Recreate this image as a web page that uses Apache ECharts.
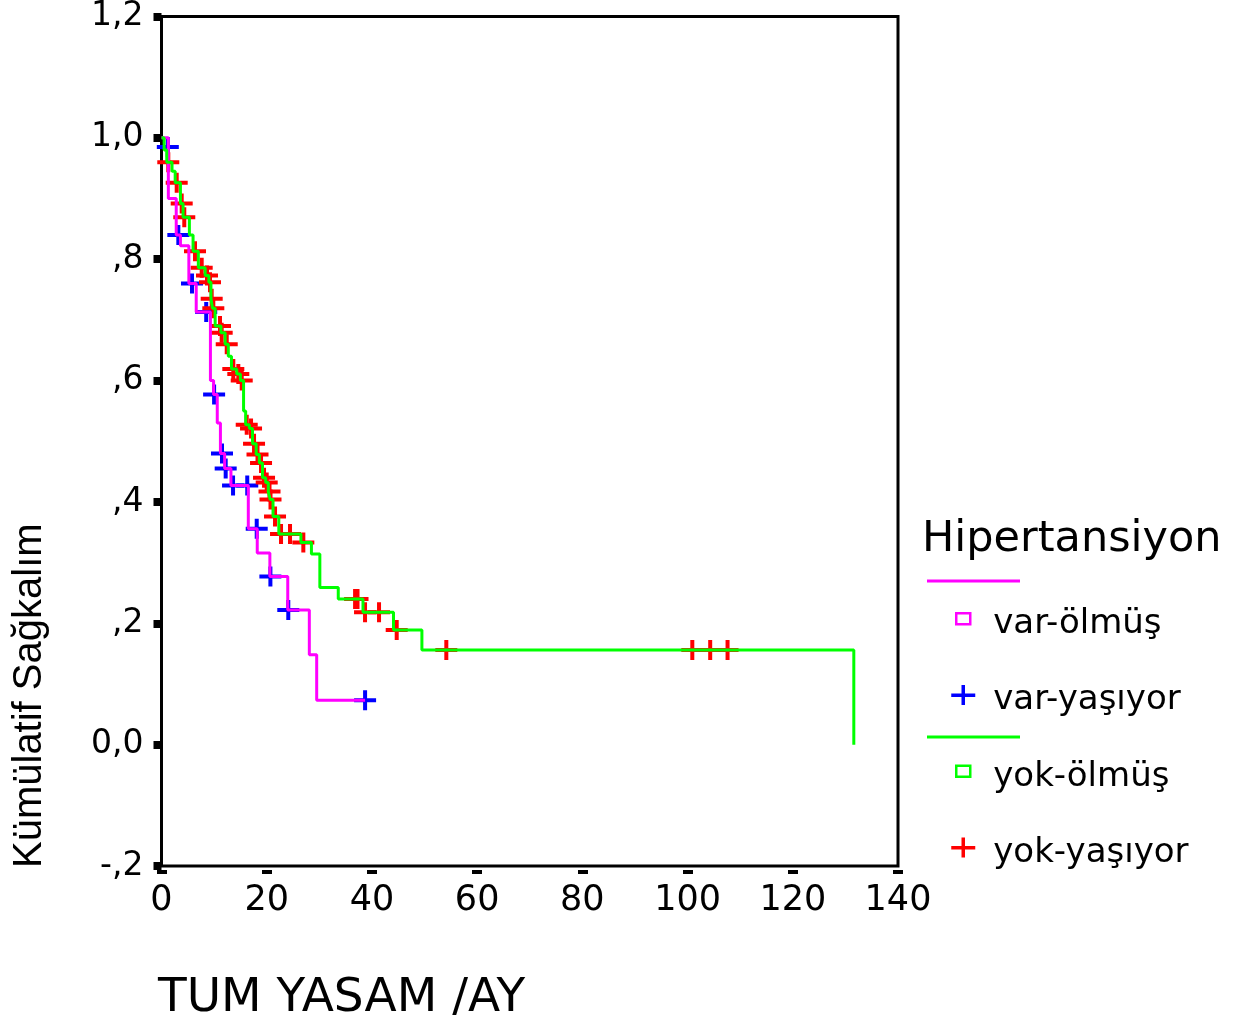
<!DOCTYPE html>
<html>
<head>
<meta charset="utf-8">
<script src="https://cdn.jsdelivr.net/npm/echarts@6/dist/echarts.min.js"></script>
<style>
  html, body { margin: 0; padding: 0; background: #fff; }
  #chart { width: 1245px; height: 1018px; }
</style>
</head>
<body>
<div id="chart"></div>
<script>
// ---- Data (time in months, cumulative survival) ----
// Group "var" (hypertension present): step curve (time at which survival changes, survival after)
const varTimes = [0, 1.3, 2.8, 3.6, 5.2, 6.6, 9.3, 9.9, 10.6, 11.2, 12.0, 13.2, 16.5, 18.2, 20.6, 24.0, 28.1, 29.5, 38.7];
const varSurv  = [1.0, 0.90, 0.84, 0.822, 0.76, 0.713, 0.60, 0.577, 0.53, 0.48, 0.455, 0.427, 0.356, 0.316, 0.277, 0.222, 0.148, 0.073, 0.073];
// Censored (alive) cases in group "var"
const varCensTimes = [1.2, 3.2, 5.8, 8.5, 10.0, 11.5, 12.2, 13.6, 16.3, 18.1, 20.7, 24.1, 38.7];
const varCensSurv  = [0.985, 0.84, 0.76, 0.713, 0.577, 0.48, 0.455, 0.427, 0.427, 0.356, 0.277, 0.222, 0.073];

// Group "yok" (no hypertension): step curve
const yokTimes = [0, 0.5, 1.0, 2.0, 2.6, 3.6, 4.1, 5.3, 6.0, 7.0, 8.3, 9.0, 9.4, 9.7, 10.2, 11.3, 12.1, 12.7, 13.3, 14.3, 15.0, 15.6, 16.0, 16.7, 17.3, 18.0, 18.6, 19.2, 19.8, 20.3, 20.65, 21.2, 22.3, 26.5, 28.5, 30.1, 33.6, 38.3, 44.1, 49.5, 131.6];
const yokSurv  = [1.0, 0.98, 0.96, 0.945, 0.926, 0.892, 0.869, 0.84, 0.813, 0.786, 0.773, 0.762, 0.735, 0.719, 0.69, 0.679, 0.66, 0.64, 0.619, 0.611, 0.60, 0.55, 0.527, 0.521, 0.496, 0.478, 0.464, 0.44, 0.432, 0.417, 0.404, 0.376, 0.347, 0.333, 0.314, 0.259, 0.240, 0.218, 0.189, 0.156, 0.0];
// Censored (alive) cases in group "yok"
const yokCensTimes = [1.29, 2.89, 3.84, 4.33, 6.37, 7.64, 8.65, 9.22, 9.54, 9.85, 11.12, 11.44, 12.4, 13.65, 14.6, 15.25, 16.2, 17.02, 17.59, 18.25, 18.92, 19.49, 20.0, 20.53, 20.72, 21.58, 22.72, 24.43, 26.96, 36.8, 37.26, 38.69, 41.35, 44.71, 54.14, 100.9, 104.3, 107.6];
const yokCensSurv  = [0.96, 0.926, 0.892, 0.869, 0.813, 0.786, 0.773, 0.762, 0.735, 0.719, 0.69, 0.679, 0.66, 0.619, 0.611, 0.60, 0.527, 0.521, 0.496, 0.478, 0.464, 0.44, 0.432, 0.417, 0.404, 0.376, 0.347, 0.347, 0.333, 0.24, 0.24, 0.218, 0.218, 0.189, 0.156, 0.156, 0.156, 0.156];

const yTickLabels = ['-,2', '0,0', ',2', ',4', ',6', ',8', '1,0', '1,2'];
const xTickLabels = ['0', '20', '40', '60', '80', '100', '120', '140'];
const seriesNames = ['var-ölmüş', 'var-yaşıyor', 'yok-ölmüş', 'yok-yaşıyor'];
const legendTitle = 'Hipertansiyon';
const xTitle = 'TUM YASAM /AY';
const yTitle = 'Kümülatif Sağkalım';

// ---- Build ----
const zip = (a, b) => a.map((v, i) => [v, b[i]]);
const PLUS = 'path://M0,8H22V12H0ZM9,0H13V20H9Z';
const PLUS_LEG = 'path://M0,0M24,32M0,9H24V12.5H0ZM10.25,0.5H13.75V20.5H10.25Z';
const SQUARE_LEG = 'path://M0,0M24,32M5,5H19V16H5Z';

const chart = echarts.init(document.getElementById('chart'), null, { renderer: 'canvas' });

const axisFont = 'DejaVu Sans';
const option = {
  animation: false,
  backgroundColor: '#fff',
  grid: {
    left: 161.5, right: 347, top: 13.3, bottom: 152,
    show: true, borderColor: '#000', borderWidth: 3, backgroundColor: 'transparent'
  },
  xAxis: [
    {
      type: 'value', min: 0, max: 140, interval: 20,
      axisLine: { show: false }, axisTick: { show: false }, axisLabel: { show: false },
      splitLine: { show: false }
    },
    {
      type: 'value', min: 0, max: 140, interval: 20, position: 'bottom', offset: 4,
      axisLine: { show: false },
      axisTick: { show: true, length: 4, lineStyle: { color: '#000', width: 10 } },
      axisLabel: {
        margin: 13, color: '#000', fontFamily: axisFont, fontSize: 35,
        formatter: (v) => xTickLabels[Math.round(v / 20)]
      },
      splitLine: { show: false }
    }
  ],
  yAxis: {
    type: 'value', min: -0.2, max: 1.2, interval: 0.2,
    axisLine: { show: false },
    axisTick: { show: true, length: 8, lineStyle: { color: '#000', width: 8 } },
    axisLabel: {
      margin: 18, color: '#000', fontFamily: axisFont, fontSize: 33,
      formatter: (v) => yTickLabels[Math.round((v + 0.2) / 0.2)]
    },
    splitLine: { show: false }
  },
  legend: {
    orient: 'vertical', left: 945, top: 602,
    itemWidth: 24, itemHeight: 32, itemGap: 42,
    selectedMode: false,
    textStyle: { fontFamily: axisFont, fontSize: 34, color: '#000', lineHeight: 32, padding: [0, 0, 0, 13] },
    data: [
      { name: seriesNames[0], icon: SQUARE_LEG, itemStyle: { color: 'transparent', borderColor: '#ff00ff', borderWidth: 2.5 } },
      { name: seriesNames[1], icon: PLUS_LEG, itemStyle: { color: '#0000ff', borderWidth: 0 } },
      { name: seriesNames[2], icon: SQUARE_LEG, itemStyle: { color: 'transparent', borderColor: '#00ff00', borderWidth: 2.5 } },
      { name: seriesNames[3], icon: PLUS_LEG, itemStyle: { color: '#ff0000', borderWidth: 0 } }
    ]
  },
  graphic: [
    { type: 'text', left: 922, top: 518, style: { text: legendTitle, font: '43px "DejaVu Sans"', fill: '#000' } },
    { type: 'line', shape: { x1: 927, y1: 581, x2: 1020, y2: 581 }, style: { stroke: '#ff00ff', lineWidth: 3 } },
    { type: 'line', shape: { x1: 927, y1: 737, x2: 1020, y2: 737 }, style: { stroke: '#00ff00', lineWidth: 3 } },
    { type: 'text', left: 158, top: 975, style: { text: xTitle, font: '47px "DejaVu Sans"', fill: '#000' } },
    { type: 'text', x: 50, y: 868, rotation: Math.PI / 2,
      style: { text: yTitle, font: '40px "Liberation Sans"', fill: '#000', textAlign: 'left', textVerticalAlign: 'bottom' } }
  ],
  series: [
    {
      name: seriesNames[0], type: 'line', step: 'end', showSymbol: false, symbol: 'none',
      xAxisIndex: 0, data: zip(varTimes, varSurv),
      lineStyle: { color: '#ff00ff', width: 3 }, itemStyle: { color: '#ff00ff' }
    },
    {
      name: seriesNames[2], type: 'line', step: 'end', showSymbol: false, symbol: 'none',
      xAxisIndex: 0, data: zip(yokTimes, yokSurv),
      lineStyle: { color: '#00ff00', width: 3 }, itemStyle: { color: '#00ff00' }
    },
    {
      name: seriesNames[1], type: 'scatter', symbol: PLUS, symbolSize: [22, 20],
      xAxisIndex: 0, data: zip(varCensTimes, varCensSurv),
      itemStyle: { color: '#0000ff', opacity: 1 }
    },
    {
      name: seriesNames[3], type: 'scatter', symbol: PLUS, symbolSize: [22, 20],
      xAxisIndex: 0, data: zip(yokCensTimes, yokCensSurv),
      itemStyle: { color: '#ff0000', opacity: 1 }
    }
  ]
};
chart.setOption(option);
</script>
</body>
</html>
